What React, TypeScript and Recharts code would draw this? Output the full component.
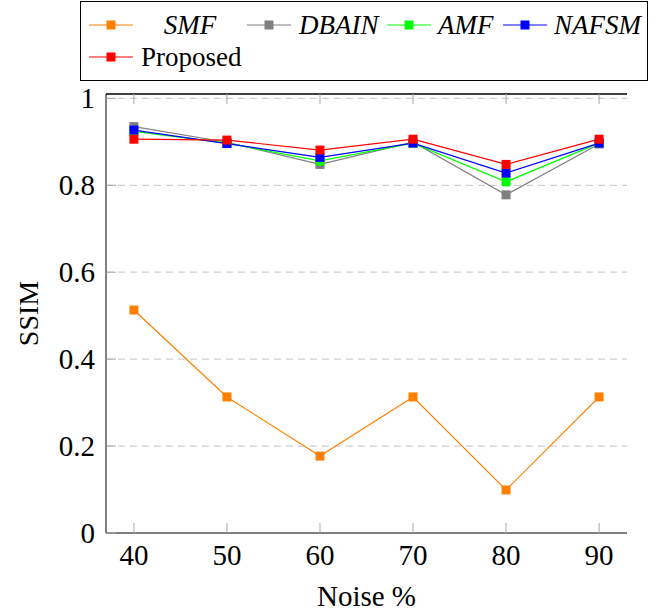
import { LineChart, Line, XAxis, YAxis, CartesianGrid, ReferenceLine } from "recharts";

const noise = [40, 50, 60, 70, 80, 90];
const smf = [0.513, 0.313, 0.177, 0.313, 0.099, 0.313];
const dbain = [0.935, 0.899, 0.848, 0.899, 0.778, 0.895];
const amf = [0.924, 0.897, 0.856, 0.897, 0.808, 0.897];
const nafsm = [0.927, 0.896, 0.864, 0.897, 0.828, 0.897];
const proposed = [0.906, 0.904, 0.881, 0.906, 0.848, 0.906];

const xTicks = [40, 50, 60, 70, 80, 90];
const yTicks = [0, 0.2, 0.4, 0.6, 0.8, 1];
const yLabels = ["0", "0.2", "0.4", "0.6", "0.8", "1"];
const Y_MAX = 1.01;

const series = [
  { key: "smf", name: "SMF", color: "#ff8000", italic: true },
  { key: "dbain", name: "DBAIN", color: "#808080", italic: true },
  { key: "amf", name: "AMF", color: "#00ff00", italic: true },
  { key: "nafsm", name: "NAFSM", color: "#0000ff", italic: true },
  { key: "proposed", name: "Proposed", color: "#ff0000", italic: false },
];

const data = noise.map((n, i) => ({
  noise: n,
  smf: smf[i],
  dbain: dbain[i],
  amf: amf[i],
  nafsm: nafsm[i],
  proposed: proposed[i],
}));

const FONT = '"Liberation Serif", "Times New Roman", serif';
const TICK_LEN = 10;
const TICK_COLOR = "#a8a8a8";

// legend slot layout: [lineStart, textX, anchor, rowY]
const legendSlots: [number, number, "start" | "middle", number][] = [
  [89, 190, "middle", 25],
  [247, 299, "start", 25],
  [387, 438, "start", 25],
  [503, 554, "start", 25],
  [89, 141, "start", 57],
];

function Square(props: any) {
  const { cx, cy, fill, index } = props;
  if (cx == null || cy == null) return null;
  return <rect key={index} x={cx - 4.5} y={cy - 4.5} width={9} height={9} fill={fill} />;
}

function BottomTick({ x, y, payload }: any) {
  return (
    <g>
      <line x1={x} x2={x} y1={y} y2={y - TICK_LEN} stroke={TICK_COLOR} />
      <text x={x} y={y + 32} textAnchor="middle" fontFamily={FONT} fontSize={29} fill="#000">
        {payload.value}
      </text>
    </g>
  );
}

function TopTick({ x, y }: any) {
  return <line x1={x} x2={x} y1={y} y2={y + TICK_LEN} stroke={TICK_COLOR} />;
}

function LeftTick({ x, y, payload }: any) {
  const i = yTicks.indexOf(payload.value);
  return (
    <g>
      <line x1={x} x2={x + TICK_LEN} y1={y} y2={y} stroke={TICK_COLOR} />
      <text x={x - 11} y={y} dy="0.35em" textAnchor="end" fontFamily={FONT} fontSize={29} fill="#000">
        {yLabels[i]}
      </text>
    </g>
  );
}

function RightTick({ x, y }: any) {
  return <line x1={x} x2={x - TICK_LEN} y1={y} y2={y} stroke={TICK_COLOR} />;
}

function ChartLegend() {
  return (
    <svg width={664} height={90} style={{ position: "absolute", left: 0, top: 0 }}>
      <rect x={80.5} y={1.5} width={567} height={79} fill="#fff" stroke="#000" />
      {series.map((s, i) => {
        const [lx, tx, anchor, ry] = legendSlots[i];
        return (
          <g key={s.key}>
            <line x1={lx} x2={lx + 44} y1={ry} y2={ry} stroke={s.color} strokeWidth={1.2} />
            <rect x={lx + 17.5} y={ry - 4.5} width={9} height={9} fill={s.color} />
            <text
              x={tx}
              y={ry}
              dy="0.35em"
              textAnchor={anchor}
              fontFamily={FONT}
              fontSize={27}
              fontStyle={s.italic ? "italic" : "normal"}
              fill="#000"
            >
              {s.name}
            </text>
          </g>
        );
      })}
    </svg>
  );
}

export default function App() {
  return (
    <div style={{ position: "absolute", left: 0, top: 0, width: 664, height: 612, background: "#fff" }}>
      <LineChart
        width={664}
        height={612}
        data={data}
        margin={{ top: 93, right: 37, bottom: 0, left: 0 }}
      >
        <CartesianGrid
          horizontal
          vertical={false}
          strokeDasharray="7 5"
          stroke="#cfcfcf"
          strokeWidth={1.2}
          horizontalValues={[0.2, 0.4, 0.6, 0.8, 1]}
        />
        <XAxis
          dataKey="noise"
          type="number"
          domain={[37, 93]}
          allowDataOverflow
          ticks={xTicks}
          height={79}
          tickSize={0}
          tickMargin={0}
          tickLine={false}
          axisLine={{ stroke: "#000" }}
          tick={<BottomTick />}
          label={{
            value: "Noise %",
            position: "insideBottom",
            offset: 6,
            style: { fontFamily: FONT, fontSize: 29, fill: "#000" },
          }}
        />
        <XAxis
          xAxisId="top"
          orientation="top"
          dataKey="noise"
          type="number"
          domain={[37, 93]}
          allowDataOverflow
          ticks={xTicks}
          height={1}
          tickSize={0}
          tickMargin={0}
          tickLine={false}
          axisLine={{ stroke: "#000" }}
          tick={<TopTick />}
        />
        <YAxis
          type="number"
          domain={[0, Y_MAX]}
          allowDataOverflow
          ticks={yTicks}
          width={106}
          tickSize={0}
          tickMargin={0}
          tickLine={false}
          axisLine={{ stroke: "#000" }}
          tick={<LeftTick />}
          label={{
            value: "SSIM",
            angle: -90,
            position: "insideLeft",
            offset: 28,
            style: { fontFamily: FONT, fontSize: 28, fill: "#000", textAnchor: "middle" },
          }}
        />
        <YAxis
          yAxisId="right"
          orientation="right"
          type="number"
          domain={[0, Y_MAX]}
          allowDataOverflow
          ticks={yTicks}
          width={0}
          tickSize={0}
          tickMargin={0}
          tickLine={false}
          axisLine={{ stroke: "#555" }}
          tick={<RightTick />}
        />
        <ReferenceLine y={Y_MAX} stroke="#000" strokeWidth={1} ifOverflow="visible" />
        {series.map((s) => (
          <Line
            key={s.key}
            dataKey={s.key}
            name={s.name}
            type="linear"
            stroke={s.color}
            strokeWidth={1.2}
            fill={s.color}
            dot={<Square fill={s.color} />}
            activeDot={false}
            isAnimationActive={false}
          />
        ))}
      </LineChart>
      <ChartLegend />
    </div>
  );
}
